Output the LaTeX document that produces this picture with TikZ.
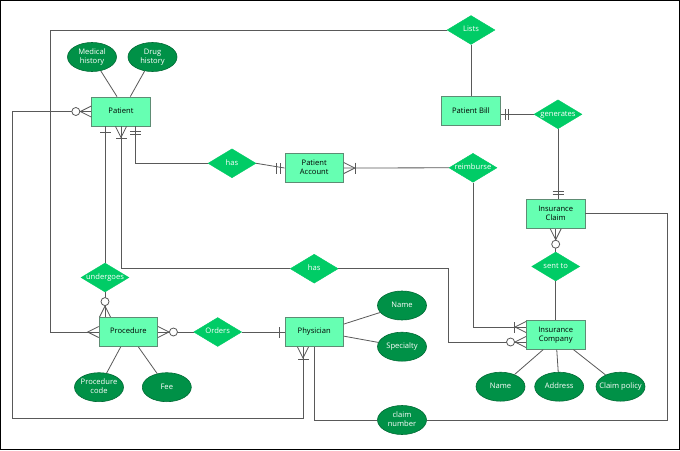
\documentclass[tikz,border=0pt]{standalone}
\usepackage{fontspec}
\setmainfont{Open Sans}
\usetikzlibrary{shapes.geometric}
\definecolor{entfill}{HTML}{66FFB2}
\definecolor{entdraw}{HTML}{5E8C74}
\definecolor{relfill}{HTML}{00CC66}
\definecolor{attfill}{HTML}{009147}
\definecolor{attdraw}{HTML}{006B35}
\definecolor{ln}{HTML}{595959}
\newcommand{\ctext}[1]{\makebox[0pt]{\begin{tabular}{@{}c@{}}#1\end{tabular}}}
\tikzset{
  ermark/.style={draw=ln, line width=0.8pt},
  pmany/.pic={\draw[ermark] (0,-5.5) -- (11,0) -- (0,5.5);},
  pomany/.pic={\draw[ermark] (0,-5.5) -- (11,0) -- (0,5.5); \draw[ermark] (12,-5.5) -- (12,5.5);},
  pzmany/.pic={\draw[ermark] (0,-5.5) -- (11,0) -- (0,5.5); \draw[ermark,fill=white] (15.5,0) circle (4);},
  pone/.pic={\draw[ermark] (5.5,-5.5) -- (5.5,5.5);},
  ptwo/.pic={\draw[ermark] (4.5,-5.5) -- (4.5,5.5) (8,-5.5) -- (8,5.5);}
}
\begin{document}
\begin{tikzpicture}[x=1pt,y=-1pt,
  every node/.style={font=\fontsize{7.6}{9}\selectfont, inner sep=0pt},
  entity/.style={rectangle, draw=entdraw, fill=entfill, line width=0.8pt, minimum width=58.5pt, minimum height=29pt, text=black},
  rel/.style={diamond, fill=relfill, draw=relfill, minimum width=48pt, minimum height=29pt, text=white},
  attr/.style={ellipse, fill=attfill, draw=attdraw, line width=0.6pt, minimum width=49pt, minimum height=29pt, text=white},
  conn/.style={draw=ln, line width=0.8pt}]
\useasboundingbox (0,0) rectangle (680,450);
\fill[white] (0,0) rectangle (680,450);
\draw[black, line width=1.2pt] (0.6,0.6) rectangle (679.4,449.4);

% entities
\node[entity] (pat) at (121,111.5) {\ctext{Patient}};
\node[entity] (bill) at (471,111.3) {\ctext{Patient Bill}};
\node[entity] (pacc) at (314.2,168) {\ctext{Patient\\Account}};
\node[entity] (claim) at (555.7,213.8) {\ctext{Insurance\\Claim}};
\node[entity] (proc) at (128.3,332) {\ctext{Procedure}};
\node[entity] (phys) at (314.2,332) {\ctext{Physician}};
\node[entity] (ins) at (555.7,334.7) {\ctext{Insurance\\Company}};

% relationships
\node[rel] (lists) at (471,30) {\ctext{Lists}};
\node[rel] (gen) at (558,114.3) {\ctext{generates}};
\node[rel] (has1) at (232,163.3) {\ctext{has}};
\node[rel] (reim) at (473,167.8) {\ctext{reimburse}};
\node[rel] (und) at (105,277.5) {\ctext{undergoes}};
\node[rel] (has2) at (314.2,268.7) {\ctext{has}};
\node[rel] (sent) at (555.7,266.5) {\ctext{sent to}};
\node[rel] (ord) at (217.7,332) {\ctext{Orders}};

% attributes
\node[attr] (mh) at (92,57) {\ctext{Medical\\history}};
\node[attr] (dh) at (152.5,57) {\ctext{Drug\\history}};
\node[attr] (pcode) at (99,387.2) {\ctext{Procedure\\code}};
\node[attr] (fee) at (166.8,387.2) {\ctext{Fee}};
\node[attr] (pname) at (402,305.5) {\ctext{Name}};
\node[attr] (spec) at (402,346.7) {\ctext{Specialty}};
\node[attr] (cn) at (402,420) {\ctext{claim\\number}};
\node[attr] (iname) at (500.5,386.7) {\ctext{Name}};
\node[attr] (addr) at (559.2,386.7) {\ctext{Address}};
\node[attr] (cpol) at (620.5,386.7) {\ctext{Claim policy}};

% helper coordinates
\coordinate (k1) at (12,418);
\coordinate (k2) at (303,0);
\coordinate (k3) at (50,30);
\coordinate (k4) at (667.7,420);
\coordinate (k5) at (448.3,342);
\coordinate (k6) at (0,327);
\coordinate (k7) at (135,0);

% connectors
\draw[conn] (pat.west) -| (k1) -| (phys.south -| k2);
\draw[conn] (proc.west) -| (k3) -- (lists.west);
\draw[conn] (lists.south) -- (bill.north);
\draw[conn] (gen.west) -- (gen.west -| bill.east);
\draw[conn] (gen.south) -- (gen.south |- claim.north);
\draw[conn] (claim.south) -- (sent.north);
\draw[conn] (sent.south) -- (ins.north);
\draw[conn] (claim.east) -| (k4) -- (cn.east);
\draw[conn] (cn.west) -| (phys.south);
\draw[conn] (has2.east) -| (k5) -- (k5 -| ins.west);
\draw[conn] (reim.south) |- (ins.west |- k6);
\draw[conn] (pacc.east) -- (reim.west);
\draw[conn] (has1.east) -- (pacc.west);
\draw[conn] (pat.south -| k7) |- (has1.west);
\draw[conn] (pat.south) |- (has2.west);
\draw[conn] (pat.south -| und.north) -- (und.north);
\draw[conn] (und.south) -- (proc.north -| und.south);
\draw[conn] (proc.east) -- (ord.west);
\draw[conn] (ord.east) -- (phys.west);
\draw[conn] (mh) -- (pat.105);
\draw[conn] (dh) -- (pat.58);
\draw[conn] (pcode) -- (proc.243);
\draw[conn] (fee) -- (proc.304);
\draw[conn] (pname) -- (phys.15);
\draw[conn] (spec) -- (phys.-8);
\draw[conn] (iname) -- (ins.230);
\draw[conn] (addr) -- (ins.274);
\draw[conn] (cpol) -- (ins.320);

% cardinality marks
\pic[rotate=180] at (pat.west) {pzmany};
\pic[rotate=-90] at (phys.south -| k2) {pomany};
\pic[rotate=180] at (proc.west) {pmany};
\pic at (gen.west -| bill.east) {ptwo};
\pic[rotate=90] at (gen.south |- claim.north) {ptwo};
\pic[rotate=-90] at (claim.south) {pzmany};
\pic[rotate=180] at (k5 -| ins.west) {pzmany};
\pic[rotate=180] at (ins.west |- k6) {pomany};
\pic at (pacc.east) {pomany};
\pic[rotate=180] at (pacc.west) {ptwo};
\pic[rotate=-90] at (pat.south -| k7) {ptwo};
\pic[rotate=-90] at (pat.south) {pomany};
\pic[rotate=-90] at (pat.south -| und.north) {pone};
\pic[rotate=90] at (proc.north -| und.south) {pzmany};
\pic at (proc.east) {pzmany};
\pic[rotate=180] at (phys.west) {pone};
\end{tikzpicture}
\end{document}
